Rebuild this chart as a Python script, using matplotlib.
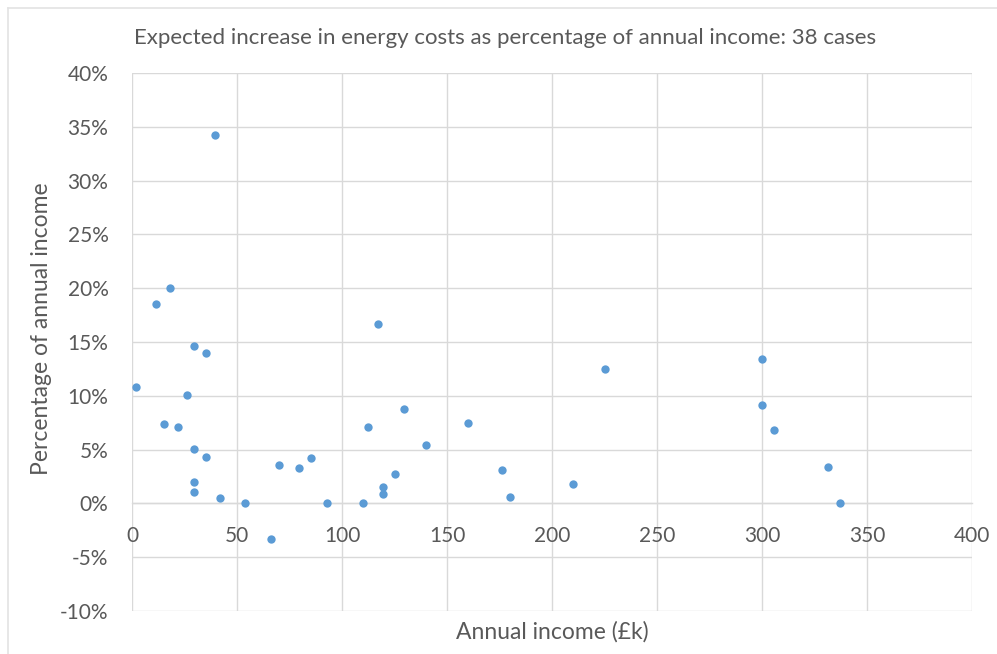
import numpy as np
import matplotlib.pyplot as plt
from matplotlib.ticker import FuncFormatter
from matplotlib.lines import Line2D

# annual income (£k) and increase as % of income
income = [39.5, 11.4, 18, 2, 15, 22, 26, 29.5, 35, 29.5,
          35, 29.5, 29.5, 42, 54, 66, 70, 79.5, 85, 93,
          110, 112.5, 117, 119.5, 119.5, 125, 129.5, 140, 160, 176,
          180, 210, 225, 300, 300, 305.7, 331.5, 337]
pct_income = [34.2, 18.5, 20, 10.8, 7.4, 7.1, 10.1, 14.6, 14.0, 5.1,
              4.3, 2.0, 1.1, 0.5, 0.0, -3.3, 3.6, 3.3, 4.2, 0.0,
              0.0, 7.1, 16.7, 1.5, 0.9, 2.7, 8.8, 5.4, 7.5, 3.1,
              0.6, 1.8, 12.5, 13.4, 9.1, 6.8, 3.4, 0.0]

x_ticks = [0, 50, 100, 150, 200, 250, 300, 350, 400]
y_ticks = [-10, -5, 0, 5, 10, 15, 20, 25, 30, 35, 40]

plt.rcParams['font.family'] = ['Lato', 'DejaVu Sans']
txt_color = "#595959"
grid_color = "#d9d9d9"

fig = plt.figure(figsize=(9.97, 6.54), dpi=100)
ax = fig.add_axes([132/997, 1 - 611/654, (972-132)/997, (611-73)/654])

ax.scatter(income, pct_income, s=36, color="#5b9bd5", zorder=3, linewidths=0)

ax.set_xlim(0, 400)
ax.set_ylim(-10, 40)
ax.set_xticks(x_ticks)
ax.set_yticks(y_ticks)
ax.yaxis.set_major_formatter(FuncFormatter(lambda v, p: f"{v:.0f}%"))
ax.grid(True, color=grid_color, linewidth=1)
ax.set_axisbelow(True)

for s in ["top", "right", "left"]:
    ax.spines[s].set_visible(False)
ax.spines["bottom"].set_position(("data", 0))
ax.spines["bottom"].set_color(grid_color)
ax.spines["bottom"].set_linewidth(1)

ax.tick_params(axis="both", length=0, labelsize=15, colors=txt_color)
ax.tick_params(axis="x", pad=16)
ax.tick_params(axis="y", pad=17)

fig.text(505/997, 1 - 38/654, "Expected increase in energy costs as percentage of annual income: 38 cases",
         ha="center", va="center", fontsize=16, color=txt_color)
fig.text(552/997, 1 - 632/654, "Annual income (£k)", ha="center", va="center",
         fontsize=16.5, color=txt_color)
fig.text(42/997, 1 - 329/654, "Percentage of annual income", ha="center", va="center",
         rotation=90, fontsize=16.5, color=txt_color)

# faint outer frame (top and left edges visible in the original)
fig.add_artist(Line2D([8/997, 1], [1 - 8/654, 1 - 8/654], color="#e3e3e3", lw=1.2))
fig.add_artist(Line2D([8/997, 8/997], [0, 1 - 8/654], color="#e3e3e3", lw=1.2))

fig.savefig("out.png", dpi=100)
